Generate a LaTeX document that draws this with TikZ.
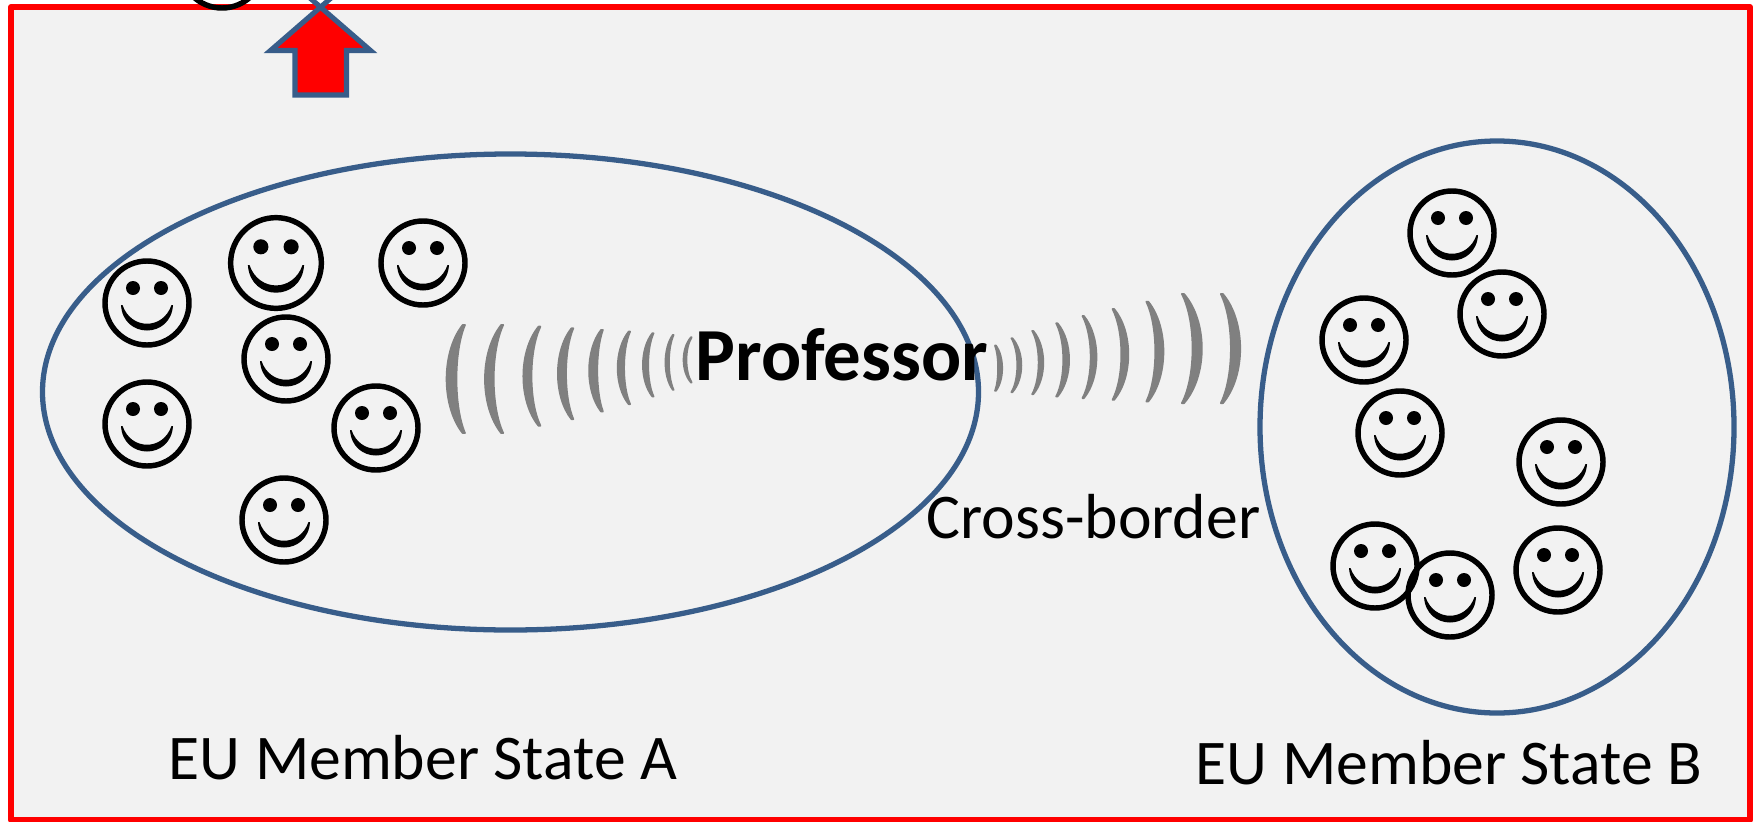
\documentclass[tikz,border=0pt]{standalone}
\usepackage{fontspec}
\setmainfont{Carlito}
\definecolor{framered}{RGB}{255,0,0}
\definecolor{panelgrey}{RGB}{242,242,242}
\definecolor{ovalblue}{RGB}{56,93,138}
\definecolor{wavegrey}{RGB}{128,128,128}
\newcommand\wavearc[5]{% tip x, top y, bottom y, outer x, inner x
    \pgfmathsetmacro\ctrla{#1+(#4-#1)/.75}
    \pgfmathsetmacro\ctrlb{#1+(#5-#1)/.75}
    \pgfmathsetmacro\tipw{(#5-#4)*.12}
    \pgfmathsetmacro\quartery{(#3-#2)*.25}
    \draw[wave] (#1-\tipw,#2) .. controls (\ctrla,#2+\quartery) and (\ctrla,#3-\quartery) .. (#1-\tipw,#3)
        -- (#1+\tipw,#3) .. controls (\ctrlb,#3-\quartery) and (\ctrlb,#2+\quartery) .. (#1+\tipw,#2) -- cycle;
}
\tikzset{
    oval/.style={draw=ovalblue,line width=1.5pt},
    wave/.style={draw=wavegrey,fill=wavegrey,line width=.5pt,line join=round},
    caption/.style={inner sep=0pt,anchor=base west,font=\fontsize{18.1}{22}\selectfont},
    pics/smiley/.style={code={
        \draw[line width=1.55pt] (0,0) circle (42);
        \fill (-14,-15) circle (7) (14,-15) circle (7);
        \fill (-26,2) .. controls (-24,36) and (24,36) .. (26,2)
            -- (24.5,2) .. controls (16,27) and (-16,27) .. (-24.5,2) -- cycle;
    }}
}

\begin{document}
\begin{tikzpicture}[x=0.01cm,y=-0.01cm]
    \useasboundingbox (0,0) rectangle (1758,821);
    \clip (0,0) rectangle (1758,821);

    % Panel
    \draw[framered,fill=panelgrey,line width=1.7pt,line join=round] (11,7) rectangle (1750,820);

    % Smiley cut off by the top edge
    \pic at (222,-34) {smiley};

    % Up arrow
    \fill[framered] (320.5,7) -- (270.5,50.5) -- (295,50.5) -- (295,95) -- (346.5,95) -- (346.5,50.5) -- (370.5,50.5) -- cycle;
    \draw[ovalblue,line width=1.45pt,miter limit=20] (334.5,-5) -- (270.5,50.5) -- (295,50.5) -- (295,95) -- (346.5,95) -- (346.5,50.5) -- (370.5,50.5) -- (306.5,-5);

    % Member states
    \draw[oval] (510.5,392) ellipse (468 and 238);
    \draw[oval] (1497,427) ellipse (237 and 286);

    % Waves, left and right of the professor
    \begin{scope}[shift={(420,290)},x=0.005485cm,y=-0.00333cm]
        \foreach \tipx/\topy/\boty/\outx/\inx in {80/105/430/49/66,150/105/430/119/134,218/110/408/189/203,278/115/388/252/266,332/120/365/309/323,382/125/343/361/372,425/130/320/407/416,462/135/300/448/454,495/142/278/481/486}{
            \wavearc{\tipx}{\topy}{\boty}{\outx}{\inx}
        }
        \foreach \tipx/\topy/\boty/\outx/\inx in {1050/167/303/1062/1055,1080/145/307/1097/1090,1118/123/313/1137/1129,1162/100/320/1184/1174,1210/78/325/1234/1224,1265/57/330/1292/1280,1327/35/335/1356/1342,1392/12/340/1426/1410,1463/12/340/1496/1480}{
            \wavearc{\tipx}{\topy}{\boty}{\outx}{\inx}
        }
    \end{scope}

    % Smileys
    \foreach \cx/\cy in {147/303,423/263,286/359,147/424,376/428,284/520,1452/233,1502/314,1364/340,1400/433,1561/462,1375/566,1450/595,1558/570}
        \pic at (\cx,\cy) {smiley};
    \pic[scale=1.08] at (276,263) {smiley};

    % Labels
    \node[caption,font=\fontsize{21.3}{25}\selectfont\bfseries] (professor) at (695,380) {Professor};
    \node[caption] (crossborder) at (926,538) {Cross-border};
    \node[caption] (statea) at (168,779) {EU Member State A};
    \node[caption] (stateb) at (1195,784) {EU Member State B};
\end{tikzpicture}
\end{document}
